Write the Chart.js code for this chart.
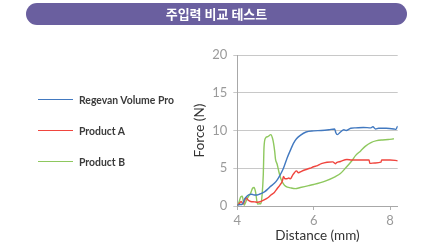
<!DOCTYPE html>
<html>
<head>
<meta charset="utf-8">
<script src="https://cdn.jsdelivr.net/npm/chart.js@4"></script>
<style>
  html, body { margin: 0; padding: 0; background: #ffffff; }
  #wrap { position: relative; width: 424px; height: 249px; overflow: hidden; }
  #banner {
    position: absolute; left: 26px; top: 3px; width: 381px; height: 22px;
    border-radius: 11px; background: #6a5f9f; color: #ffffff;
    font-family: "Noto Sans CJK KR", "Noto Sans", sans-serif; font-weight: bold;
    font-size: 13px; line-height: 22px; text-align: center;
  }
  #legend { position: absolute; left: 38px; top: 0; }
  .item { position: absolute; left: 0; white-space: nowrap; height: 14px; }
  .swatch { position: absolute; left: 0; top: 6px; width: 35px; height: 0; border-top: 1.5px solid; }
  .label { position: absolute; left: 41px; top: 0; font-family: Lato, sans-serif; font-weight: bold;
           font-size: 10.4px; line-height: 14px; color: #3a3a3a; }
  canvas { position: absolute; left: 0; top: 0; }
</style>
</head>
<body>
<div id="wrap">
  <canvas id="c" width="424" height="249"></canvas>
  <div id="banner"></div>
  <div id="legend"></div>
</div>
<script>
const chartTitle = "주입력 비교 테스트";
const seriesNames = ["Regevan Volume Pro", "Product A", "Product B"];
const seriesColors = ["#4279c0", "#f0453e", "#8ec85e"];
const xTitle = "Distance (mm)";
const yTitle = "Force (N)";

const blueX = [4.0, 4.08, 4.12, 4.2, 4.25, 4.31, 4.38, 4.44, 4.5, 4.57, 4.65, 4.72, 4.79, 4.87, 4.97, 5.05, 5.12, 5.2, 5.3, 5.4, 5.47, 5.55, 5.65, 5.8, 6.0, 6.2, 6.4, 6.55, 6.58, 6.62, 6.7, 6.79, 6.85, 6.97, 7.1, 7.3, 7.5, 7.55, 7.62, 7.7, 7.9, 8.1, 8.15, 8.2];
const blueY = [0.1, 0.2, 0.2, 1.0, 1.3, 1.5, 1.55, 1.45, 1.45, 1.55, 1.7, 1.9, 2.2, 2.6, 3.0, 3.5, 4.1, 4.9, 6.3, 7.5, 8.3, 8.9, 9.35, 9.8, 9.95, 10.0, 10.1, 10.2, 9.7, 9.45, 9.8, 10.1, 10.0, 10.3, 10.35, 10.4, 10.35, 10.5, 10.2, 10.3, 10.3, 10.2, 10.15, 10.6];

const redX = [4.0, 4.05, 4.1, 4.15, 4.2, 4.23, 4.28, 4.35, 4.45, 4.53, 4.62, 4.7, 4.8, 4.88, 4.97, 5.05, 5.12, 5.18, 5.21, 5.25, 5.3, 5.35, 5.39, 5.45, 5.5, 5.55, 5.6, 5.68, 5.78, 5.9, 6.0, 6.1, 6.2, 6.35, 6.5, 6.57, 6.6, 6.7, 6.87, 7.0, 7.23, 7.45, 7.47, 7.6, 7.76, 7.78, 8.0, 8.2];
const redY = [0.1, 0.3, 0.6, 0.25, 0.8, 1.1, 0.8, 0.6, 0.55, 0.5, 0.6, 0.8, 1.1, 1.45, 1.8, 2.35, 2.8, 3.3, 3.9, 3.6, 3.6, 3.7, 3.6, 4.1, 4.45, 4.65, 4.4, 4.6, 4.8, 5.0, 5.2, 5.35, 5.6, 5.8, 5.85, 5.6, 5.75, 5.9, 6.15, 6.1, 6.1, 6.1, 5.65, 5.7, 5.8, 6.1, 6.1, 6.0];

const greenX = [4.0, 4.05, 4.09, 4.13, 4.18, 4.22, 4.26, 4.31, 4.35, 4.4, 4.44, 4.48, 4.53, 4.58, 4.62, 4.65, 4.68, 4.7, 4.74, 4.8, 4.88, 4.92, 4.95, 4.98, 5.0, 5.04, 5.09, 5.14, 5.2, 5.27, 5.4, 5.52, 5.65, 5.87, 6.0, 6.3, 6.57, 6.7, 6.83, 7.0, 7.1, 7.23, 7.35, 7.5, 7.65, 7.8, 7.95, 8.1];
const greenY = [0.0, 0.6, 1.2, 1.3, 0.1, 0.5, 1.0, 1.4, 1.7, 2.35, 2.45, 1.8, 0.25, 0.3, 0.3, 1.5, 4.1, 7.8, 9.0, 9.2, 9.45, 9.0, 8.3, 7.2, 6.2, 5.6, 4.5, 3.6, 3.0, 2.6, 2.4, 2.3, 2.45, 2.7, 2.85, 3.3, 3.9, 4.3, 5.0, 6.0, 6.7, 7.3, 7.9, 8.4, 8.65, 8.75, 8.8, 8.9];

const xTicks = [4, 6, 8];
const yTicks = [0, 5, 10, 15, 20];

document.getElementById('banner').textContent = chartTitle;

const legendTops = [93, 124, 155];
const legendEl = document.getElementById('legend');
seriesNames.forEach((name, i) => {
  const item = document.createElement('div');
  item.className = 'item';
  item.style.top = legendTops[i] + 'px';
  const sw = document.createElement('div');
  sw.className = 'swatch';
  sw.style.borderTopColor = seriesColors[i];
  const lb = document.createElement('div');
  lb.className = 'label';
  lb.textContent = name;
  item.appendChild(sw); item.appendChild(lb);
  legendEl.appendChild(item);
});

function pts(xs, ys) { return xs.map((x, i) => ({ x: x, y: ys[i] })); }

const allX = [blueX, redX, greenX];
const allY = [blueY, redY, greenY];

new Chart(document.getElementById('c'), {
  type: 'line',
  data: {
    datasets: seriesNames.map((n, i) => ({
      label: n,
      data: pts(allX[i], allY[i]),
      borderColor: seriesColors[i],
      backgroundColor: seriesColors[i],
      borderWidth: 1.4,
      pointRadius: 0,
      cubicInterpolationMode: 'monotone',
      fill: false
    }))
  },
  options: {
    responsive: false,
    animation: false,
    layout: { padding: { left: 180, right: 26.3, top: 55, bottom: 0 } },
    plugins: { legend: { display: false }, tooltip: { enabled: false } },
    scales: {
      x: {
        type: 'linear',
        min: 4, max: 8.2,
        afterFit: (s) => { s.height = 43; },
        afterBuildTicks: (s) => { s.ticks = xTicks.map(v => ({ value: v })); },
        grid: { drawOnChartArea: false, drawTicks: true, tickLength: 4, color: '#b0b0b0' },
        border: { display: true, color: '#a8a8a8', width: 1 },
        ticks: { padding: 3, color: '#9a9a9a', font: { family: 'Lato', size: 13 } },
        title: { display: true, text: xTitle, color: '#333333', padding: { top: 0, bottom: 5.6 },
                 font: { family: 'Lato', size: 13.5 } }
      },
      y: {
        type: 'linear',
        min: 0, max: 20,
        afterFit: (s) => { s.width = 57.3; },
        afterBuildTicks: (s) => { s.ticks = yTicks.map(v => ({ value: v })); },
        grid: { drawOnChartArea: true, drawTicks: true, tickLength: 4, color: '#c8c8c8' },
        border: { display: true, color: '#a8a8a8', width: 1 },
        ticks: { padding: 6, color: '#9a9a9a', font: { family: 'Lato', size: 13 } },
        title: { display: true, text: yTitle, color: '#333333', padding: { top: 11.6, bottom: 0 },
                 font: { family: 'Lato', size: 13.5 } }
      }
    }
  }
});
</script>
</body>
</html>
